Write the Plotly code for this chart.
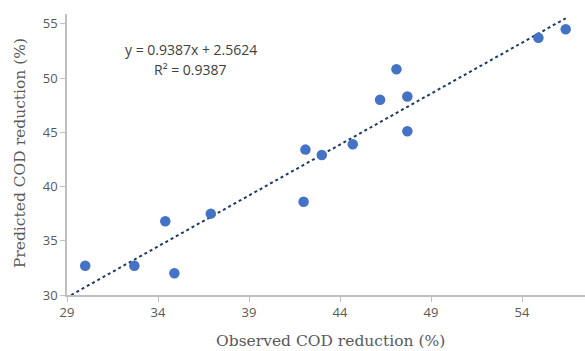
import plotly.graph_objects as go

observed = [30.0, 32.7, 34.4, 34.9, 36.9, 42.0, 42.1, 43.0, 44.7, 46.2, 47.1, 47.7, 47.7, 54.9, 56.4]
predicted = [32.7, 32.7, 36.8, 32.0, 37.5, 38.6, 43.4, 42.9, 43.9, 48.0, 50.8, 48.3, 45.1, 53.7, 54.5]
slope = 0.9387
intercept = 2.5624
r2 = 0.9387
x_ticks = [29, 34, 39, 44, 49, 54]
y_ticks = [30, 35, 40, 45, 50, 55]
x_title = "Observed COD reduction (%)"
y_title = "Predicted COD reduction (%)"

y_min = 30
x_start = (y_min - intercept) / slope
x_end = max(observed)
trend_x = [x_start, x_end]
trend_y = [slope * v + intercept for v in trend_x]

fig = go.Figure()
fig.add_trace(go.Scatter(x=trend_x, y=trend_y, mode="lines",
                         line=dict(color="#1F3864", width=2, dash="dot"),
                         hoverinfo="skip", showlegend=False))
fig.add_trace(go.Scatter(x=observed, y=predicted, mode="markers",
                         marker=dict(color="#4472C4", size=10.5),
                         showlegend=False))

note_font = dict(family="Open Sans, Liberation Sans, sans-serif", size=14, color="#404040")
fig.add_annotation(x=0.239, y=0.872, xref="paper", yref="paper", xanchor="center", yanchor="middle",
                   text=f"y = {slope}x + {intercept}", showarrow=False, font=note_font)
fig.add_annotation(x=0.239, y=0.801, xref="paper", yref="paper", xanchor="center", yanchor="middle",
                   text=f"R² = {r2}", showarrow=False, font=note_font)

title_font = dict(family="DejaVu Serif, Liberation Serif, serif", size=15.5, color="#595959")
fig.add_annotation(x=0.508, y=0, xref="paper", yref="paper", yshift=-46, xanchor="center", yanchor="middle",
                   text=x_title, showarrow=False, font=title_font)
fig.add_annotation(x=0, y=0.505, xref="paper", yref="paper", xshift=-47, xanchor="center", yanchor="middle",
                   text=y_title, textangle=-90, showarrow=False, font=title_font)

axis_common = dict(showgrid=False, zeroline=False, showline=True, linecolor="#BFBFBF",
                   linewidth=1.5, ticks="outside", tickcolor="#BFBFBF", ticklen=5,
                   tickfont=dict(family="Open Sans, Liberation Sans, sans-serif", size=13, color="#595959"))

fig.update_xaxes(range=[29, 57.46], tickvals=x_ticks, **axis_common)
fig.update_yaxes(range=[30, 55.9], tickvals=y_ticks, **axis_common)

fig.update_layout(width=585, height=351, margin=dict(l=67, r=0, t=14, b=56),
                  plot_bgcolor="white", paper_bgcolor="white")

fig.write_html("out.html", config={"displayModeBar": False},
               post_script="document.body.style.margin='0';")
